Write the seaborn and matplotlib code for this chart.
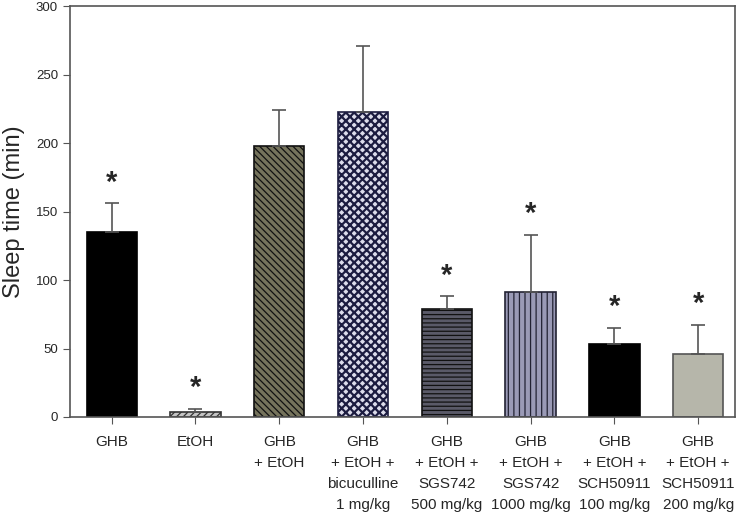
import matplotlib
matplotlib.use("Agg")
import matplotlib.pyplot as plt
import pandas as pd
import seaborn as sns

groups = [
    "GHB",
    "EtOH",
    "GHB\n+ EtOH",
    "GHB\n+ EtOH +\nbicuculline\n1 mg/kg",
    "GHB\n+ EtOH +\nSGS742\n500 mg/kg",
    "GHB\n+ EtOH +\nSGS742\n1000 mg/kg",
    "GHB\n+ EtOH +\nSCH50911\n100 mg/kg",
    "GHB\n+ EtOH +\nSCH50911\n200 mg/kg",
]
sleep_time = [135, 4, 198, 223, 79, 91, 53, 46]
sem = [21, 2, 26, 48, 9, 42, 12, 21]
significant = [True, True, False, False, True, True, True, True]

face_colors = ["#000000", "#c4c4c4", "#75735c", "#dcdcea",
               "#5a5a68", "#9a9ab6", "#000000", "#b6b6aa"]
hatches = [None, "/////", "\\\\\\\\\\", "xxxx", "----", "|||", None, None]
hatch_colors = ["#000000", "#333333", "#111111", "#1c1c40",
                "#111111", "#222233", "#000000", "#555555"]
hatch_widths = [0.9, 0.9, 0.9, 1.6, 0.9, 0.9, 0.9, 0.9]

df = pd.DataFrame({"group": groups, "sleep": sleep_time})

sns.set_style("ticks")
plt.rcParams["font.family"] = ["Liberation Sans", "DejaVu Sans"]
plt.rcParams["hatch.linewidth"] = 0.9

fig = plt.figure(figsize=(7.42, 5.18), dpi=100)
ax = fig.add_axes([0.094, 0.195, 0.8966, 0.793])

sns.barplot(data=df, x="group", y="sleep", order=groups, width=0.6,
            color="black", errorbar=None, ax=ax)

for patch, fc, h, hc, hw in zip(ax.patches, face_colors, hatches,
                                hatch_colors, hatch_widths):
    patch.set_facecolor(fc)
    patch.set_edgecolor(hc)
    patch.set_linewidth(1.2)
    if h:
        patch.set_hatch(h)
        if hasattr(patch, "set_hatch_linewidth"):
            patch.set_hatch_linewidth(hw)

x = list(range(len(groups)))
ax.errorbar(x, sleep_time, yerr=[[0] * len(sem), sem], fmt="none",
            ecolor="#555555", elinewidth=1.2, capsize=5, capthick=1.2)

for xi, v, e, sig in zip(x, sleep_time, sem, significant):
    if sig:
        ax.text(xi, v + e + 5, "*", ha="center", va="bottom",
                fontsize=21, fontweight="bold")

ax.set_ylim(0, 300)
ax.set_xlim(-0.5, 7.44)
ax.set_yticks(range(0, 301, 50))
ax.set_ylabel("Sleep time (min)", fontsize=17, labelpad=8)
ax.set_xlabel("")
ax.tick_params(axis="both", direction="out", length=5, color="#555555")
ax.tick_params(axis="y", labelsize=9.5)
ax.tick_params(axis="x", labelsize=11, pad=8)
for side in ["top", "right", "left", "bottom"]:
    ax.spines[side].set_visible(True)
    ax.spines[side].set_color("#555555")
    ax.spines[side].set_linewidth(1.2)

for lbl in ax.get_xticklabels():
    lbl.set_linespacing(1.65)
    lbl.set_verticalalignment("top")

fig.savefig("out.png", dpi=100)
plt.close()
